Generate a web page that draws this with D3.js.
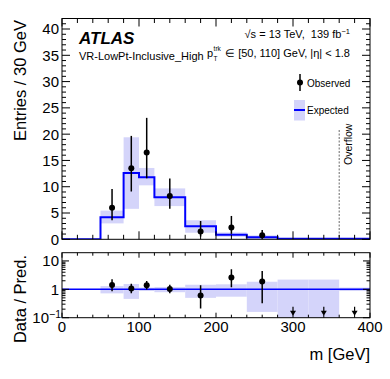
<!DOCTYPE html>
<html>
<head>
<meta charset="utf-8">
<script src="https://cdn.jsdelivr.net/npm/d3@7"></script>
<style>
  body { margin: 0; background: #fff; }
  svg { display: block; }
  text { font-family: "Liberation Sans", Arial, Helvetica, sans-serif; fill: #000; white-space: pre; }
</style>
</head>
<body>
<script>
// bins and values (entries / 30 GeV)
const binEdges = [0, 50, 80, 100, 120, 160, 200, 240, 280, 320, 360, 400]
const expected = [0, 4.2, 12.6, 11.8, 8.0, 2.5, 0.87, 0.4, 0.1, 0.1, 0.1]
// relative uncertainty band on expected
const bandLo = [null, 0.72, 0.46, 0.87, 0.79, 0.5, 0.55, 0.16, 0.05, 0.05, 0.87]
const bandHi = [null, 1.3, 1.54, 1.15, 1.21, 1.45, 1.5, 1.85, 2.2, 2.2, 1.15]
// observed
const obsX = [65, 90, 110, 140, 180, 220, 260]
const obsY = [6, 13.5, 16.5, 8.25, 1.5, 2.25, 0.75]
const obsUp = [9.58, 19.67, 23.1, 11.55, 3.48, 4.44, 1.77]
const obsDown = [3.62, 9.09, 11.6, 5.8, 0.53, 1.03, 0.13]
const obsBin = [1, 2, 3, 4, 5, 6, 7]
// empty bins -> arrows in ratio
const zeroX = [300, 340, 380]

const yTicks = [0, 5, 10, 15, 20, 25, 30, 35, 40]
const xTicks = [0, 100, 200, 300, 400]
const rTicks = [0.1, 1, 10]

const W = 390, H = 379
const left = 62, right = 370
const top1 = 18.5, bot1 = 239.3
const top2 = 252.7, bot2 = 317.7

const svg = d3.select('body').append('svg')
  .attr('width', W).attr('height', H)

const x = d3.scaleLinear().domain([0, 400]).range([left, right])
const y = d3.scaleLinear().domain([0, 42]).range([bot1, top1])
const r = d3.scaleLog().domain([0.1, 19.5]).range([bot2, top2])

const blue = '#0000ff'
const bandCol = '#d4d4fa'

// clip paths
const defs = svg.append('defs')
defs.append('clipPath').attr('id', 'c1').append('rect')
  .attr('x', left).attr('y', top1).attr('width', right - left).attr('height', bot1 - top1)
defs.append('clipPath').attr('id', 'c2').append('rect')
  .attr('x', left).attr('y', top2).attr('width', right - left).attr('height', bot2 - top2)

const bins = expected.map(function (v, i) {
  return {lo: binEdges[i], hi: binEdges[i + 1], v: v, bl: bandLo[i], bh: bandHi[i]}
})

// ---------- top panel ----------
const g1 = svg.append('g').attr('clip-path', 'url(#c1)')
g1.selectAll('.band').data(bins.filter(d => d.bl != null)).enter().append('rect')
  .attr('x', d => x(d.lo)).attr('width', d => x(d.hi) - x(d.lo))
  .attr('y', d => y(d.v * d.bh)).attr('height', d => y(d.v * d.bl) - y(d.v * d.bh))
  .attr('fill', bandCol)

const stepPts = []
bins.forEach(function (d) { stepPts.push([d.lo, d.v]); stepPts.push([d.hi, d.v]) })
g1.append('path')
  .attr('d', d3.line().x(d => x(d[0])).y(d => y(d[1]))(stepPts))
  .attr('fill', 'none').attr('stroke', blue).attr('stroke-width', 2)

// overflow marker
svg.append('line')
  .attr('x1', x(360)).attr('x2', x(360)).attr('y1', 130).attr('y2', bot1)
  .attr('stroke', '#444').attr('stroke-width', 0.8).attr('stroke-dasharray', '2,1.5')
svg.append('text')
  .attr('transform', 'translate(352,165) rotate(-90)')
  .attr('font-size', 10.5).text('Overflow')

// observed
const obs = obsX.map(function (v, i) {
  return {x: v, y: obsY[i], up: obsUp[i], dn: obsDown[i], exp: expected[obsBin[i]]}
})
const g1p = svg.append('g')
g1p.selectAll('.err').data(obs).enter().append('line')
  .attr('x1', d => x(d.x)).attr('x2', d => x(d.x))
  .attr('y1', d => y(d.up)).attr('y2', d => y(d.dn))
  .attr('stroke', '#000').attr('stroke-width', 1.5)
g1p.selectAll('.pt').data(obs).enter().append('circle')
  .attr('cx', d => x(d.x)).attr('cy', d => y(d.y)).attr('r', 3)
  .attr('fill', '#000')

// frame + ticks, top panel
function frame(top, bot) {
  svg.append('rect').attr('x', left).attr('y', top)
    .attr('width', right - left).attr('height', bot - top)
    .attr('fill', 'none').attr('stroke', '#000').attr('stroke-width', 1)
}
frame(top1, bot1)

const xMinor = d3.range(0, 401, 20)
function xTickMarks(top, bot, maj, min) {
  const gg = svg.append('g').attr('stroke', '#000').attr('stroke-width', 1)
  xMinor.forEach(function (v) {
    const L = (v % 100 === 0) ? maj : min
    gg.append('line').attr('x1', x(v)).attr('x2', x(v)).attr('y1', bot).attr('y2', bot - L)
    gg.append('line').attr('x1', x(v)).attr('x2', x(v)).attr('y1', top).attr('y2', top + L)
  })
}
xTickMarks(top1, bot1, 8, 4.5)

const yMinor = d3.range(0, 42, 1)
const gy = svg.append('g').attr('stroke', '#000').attr('stroke-width', 1)
yMinor.forEach(function (v) {
  const L = (v % 5 === 0) ? 8 : 4
  gy.append('line').attr('x1', left).attr('x2', left + L).attr('y1', y(v)).attr('y2', y(v))
  gy.append('line').attr('x1', right).attr('x2', right - L).attr('y1', y(v)).attr('y2', y(v))
})
svg.append('g').selectAll('text').data(yTicks).enter().append('text')
  .attr('x', left - 3).attr('y', d => y(d)).attr('dy', '0.36em')
  .attr('text-anchor', 'end').attr('font-size', 15).text(d => d)

// ---------- ratio panel ----------
const g2 = svg.append('g').attr('clip-path', 'url(#c2)')
g2.selectAll('.rband').data(bins.filter(d => d.bl != null)).enter().append('rect')
  .attr('x', d => x(d.lo)).attr('width', d => x(d.hi) - x(d.lo))
  .attr('y', d => r(d.bh)).attr('height', d => r(d.bl) - r(d.bh))
  .attr('fill', bandCol)
g2.append('line').attr('x1', x(0)).attr('x2', x(400)).attr('y1', r(1)).attr('y2', r(1))
  .attr('stroke', blue).attr('stroke-width', 1.5)

const g2p = svg.append('g').attr('clip-path', 'url(#c2)')
g2p.selectAll('.rerr').data(obs).enter().append('line')
  .attr('x1', d => x(d.x)).attr('x2', d => x(d.x))
  .attr('y1', d => r(d.up / d.exp)).attr('y2', d => r(d.dn / d.exp))
  .attr('stroke', '#000').attr('stroke-width', 1.5)
g2p.selectAll('.rpt').data(obs).enter().append('circle')
  .attr('cx', d => x(d.x)).attr('cy', d => r(d.y / d.exp)).attr('r', 3)
  .attr('fill', '#000')
// arrows for empty bins
zeroX.forEach(function (v) {
  const cx = x(v), yb = bot2 - 2
  g2p.append('line').attr('x1', cx).attr('x2', cx).attr('y1', yb - 9).attr('y2', yb - 4)
    .attr('stroke', '#000').attr('stroke-width', 1.2)
  g2p.append('path')
    .attr('d', 'M' + (cx - 3) + ',' + (yb - 5) + 'L' + (cx + 3) + ',' + (yb - 5) + 'L' + cx + ',' + yb + 'Z')
    .attr('fill', '#000')
})

frame(top2, bot2)
xTickMarks(top2, bot2, 5, 3)

const rMinor = []
;[0.1, 1, 10].forEach(function (dec) {
  for (let k = 1; k <= 9; k++) {
    const v = dec * k
    if (v <= 19.5) rMinor.push({v: v, major: k === 1})
  }
})
const gr = svg.append('g').attr('stroke', '#000').attr('stroke-width', 1)
rMinor.forEach(function (d) {
  const L = d.major ? 7 : 3.5
  gr.append('line').attr('x1', left).attr('x2', left + L).attr('y1', r(d.v)).attr('y2', r(d.v))
  gr.append('line').attr('x1', right).attr('x2', right - L).attr('y1', r(d.v)).attr('y2', r(d.v))
})
const rl = svg.append('g').selectAll('text').data(rTicks).enter().append('text')
  .attr('x', left - 3).attr('y', d => r(d)).attr('dy', '0.36em')
  .attr('text-anchor', 'end').attr('font-size', 15)
rl.each(function (d) {
  const t = d3.select(this)
  if (d === 0.1) {
    t.append('tspan').text('10')
    t.append('tspan').attr('dy', '-0.45em').attr('font-size', 10.5).text('\u22121')
  } else {
    t.text(d)
  }
})
rl.filter(d => d === 0.1).attr('x', left - 1)

svg.append('g').selectAll('text').data(xTicks).enter().append('text')
  .attr('x', d => x(d)).attr('y', 332).attr('text-anchor', 'middle')
  .attr('font-size', 15).text(d => d)

// ---------- titles ----------
svg.append('text').attr('transform', 'translate(26,20) rotate(-90)')
  .attr('text-anchor', 'end').attr('font-size', 16.5).text('Entries / 30 GeV')
svg.append('text').attr('transform', 'translate(26,255) rotate(-90)')
  .attr('text-anchor', 'end').attr('font-size', 16.5).text('Data / Pred.')
svg.append('text').attr('x', right).attr('y', 360).attr('text-anchor', 'end')
  .attr('font-size', 16.5).text('m [GeV]')

svg.append('text').attr('x', 79).attr('y', 44)
  .attr('font-size', 17).attr('font-weight', 'bold').attr('font-style', 'italic').text('ATLAS')
svg.append('text').attr('x', 79).attr('y', 60)
  .attr('font-size', 11).text('VR-LowPt-Inclusive_High')

const t1 = svg.append('text').attr('x', 350).attr('y', 37.5)
  .attr('text-anchor', 'end').attr('font-size', 11)
t1.append('tspan').text('\u221As = 13 TeV,  139 fb')
t1.append('tspan').attr('dy', '-0.45em').attr('font-size', 7.5).text('\u22121')

const t2 = svg.append('text').attr('x', 350).attr('y', 57)
  .attr('text-anchor', 'end').attr('font-size', 11)
  .text('\u2208 [50, 110] GeV, |\u03B7| < 1.8')
const bb = t2.node().getBBox()
const px = bb.x - 18
svg.append('text').attr('x', px).attr('y', 57).attr('font-size', 11).text('p')
svg.append('text').attr('x', px + 6.5).attr('y', 51).attr('font-size', 6.5).text('trk')
svg.append('text').attr('x', px + 6.5).attr('y', 60.5).attr('font-size', 6.5).text('T')

// legend
svg.append('line').attr('x1', 300).attr('x2', 300).attr('y1', 74).attr('y2', 91)
  .attr('stroke', '#000').attr('stroke-width', 1.5)
svg.append('circle').attr('cx', 300).attr('cy', 82.5).attr('r', 3).attr('fill', '#000')
svg.append('text').attr('x', 307).attr('y', 86.5).attr('font-size', 10).text('Observed')
svg.append('rect').attr('x', 294).attr('y', 100).attr('width', 11).attr('height', 20.5)
  .attr('fill', bandCol)
svg.append('line').attr('x1', 294).attr('x2', 305).attr('y1', 110).attr('y2', 110)
  .attr('stroke', blue).attr('stroke-width', 2)
svg.append('text').attr('x', 307).attr('y', 114).attr('font-size', 10).text('Expected')
</script>
</body>
</html>
